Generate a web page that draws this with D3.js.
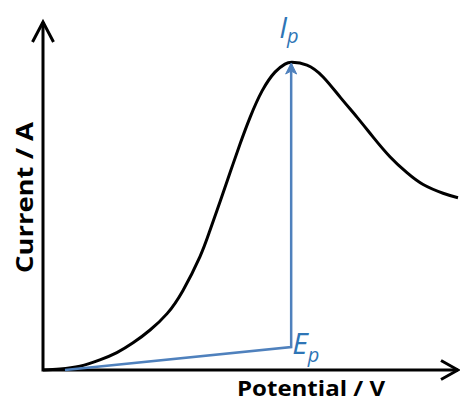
<!DOCTYPE html>
<html>
<head>
<meta charset="utf-8">
<script src="https://cdn.jsdelivr.net/npm/d3@7"></script>
<style>
  body { margin: 0; background: #fff; }
  svg { display: block; }
</style>
</head>
<body>
<script>
// voltammogram, arbitrary units (0-100 on both axes)
var potential = [0, 4.1, 8.9, 13.7, 17.8, 21.7, 25.8, 29.9, 33.7, 37.8, 40.2, 42.7, 45.1, 47.5, 49.9, 52.8, 55.9, 58.3, 60.0, 63.6, 67.5, 71.6, 75.7, 79.5, 83.6, 87.7, 91.6, 96.4, 100];
var current   = [0, 0.3, 1.1, 2.9, 5.0, 7.8, 11.5, 16.2, 22.8, 32.5, 40.0, 48.5, 56.8, 65.0, 72.6, 80.2, 85.6, 87.9, 88.4, 87.6, 84.2, 78.4, 72.6, 67.0, 61.3, 56.7, 53.3, 50.8, 49.5];

// baseline under the peak and the peak itself
var basePotential = [5.3, 59.8];
var baseCurrent = [0, 6.6];
var peakPotential = 59.8;
var peakCurrent = 88.5;

var xLabel = "Potential / V";
var yLabel = "Current / A";

var width = 460, height = 403;
var margin = { top: 22, right: 2, bottom: 33, left: 43 };

var svg = d3.select("body")
    .append("svg")
    .attr("width", width)
    .attr("height", height);

var x = d3.scaleLinear()
    .domain([0, 100])
    .range([margin.left, width - margin.right]);

var y = d3.scaleLinear()
    .domain([0, 100])
    .range([height - margin.bottom, margin.top]);

var blue = "#4f81bd";
var textBlue = "#2e75b6";

// axes with open arrow heads
var x0 = x.range()[0], x1 = x.range()[1];
var y0 = y.range()[0], y1 = y.range()[1];

svg.append("path")
    .attr("d", "M" + x0 + "," + y1 + "V" + y0 + "H" + x1)
    .attr("fill", "none")
    .attr("stroke", "#000")
    .attr("stroke-width", 3);

svg.append("path")
    .attr("d", "M" + (x0 - 10.5) + "," + (y1 + 20) + "L" + x0 + "," + y1 + "L" + (x0 + 10.5) + "," + (y1 + 20))
    .attr("fill", "none")
    .attr("stroke", "#000")
    .attr("stroke-width", 3)
    .attr("stroke-linejoin", "miter");

svg.append("path")
    .attr("d", "M" + (x1 - 17) + "," + (y0 - 9.5) + "L" + x1 + "," + y0 + "L" + (x1 - 17) + "," + (y0 + 9.5))
    .attr("fill", "none")
    .attr("stroke", "#000")
    .attr("stroke-width", 3)
    .attr("stroke-linejoin", "miter");

// curve
var pts = potential.map(function (p, i) { return [p, current[i]]; });
var line = d3.line()
    .x(function (d) { return x(d[0]); })
    .y(function (d) { return y(d[1]); })
    .curve(d3.curveNatural);

svg.append("path")
    .datum(pts)
    .attr("d", line)
    .attr("fill", "none")
    .attr("stroke", "#000")
    .attr("stroke-width", 3);

// baseline + vertical arrow to peak
svg.append("path")
    .attr("d", "M" + x(basePotential[0]) + "," + y(baseCurrent[0]) +
        "L" + x(basePotential[1]) + "," + y(baseCurrent[1]) +
        "L" + x(peakPotential) + "," + (y(peakCurrent) + 2))
    .attr("fill", "none")
    .attr("stroke", blue)
    .attr("stroke-width", 2.5)
    .attr("stroke-linejoin", "miter");

var tipX = x(peakPotential), tipY = y(peakCurrent) + 1;
svg.append("path")
    .attr("d", "M" + tipX + "," + tipY + "L" + (tipX - 5.5) + "," + (tipY + 11) + "L" + tipX + "," + (tipY + 8) + "L" + (tipX + 5.5) + "," + (tipY + 11) + "Z")
    .attr("fill", blue)
    .attr("stroke", blue)
    .attr("stroke-width", 1);

// peak labels
var ip = svg.append("text")
    .attr("x", tipX - 12)
    .attr("y", 38)
    .attr("fill", textBlue)
    .style("font-family", "'Open Sans', sans-serif")
    .style("font-style", "italic")
    .style("font-size", "29px");
ip.append("tspan").text("I");
ip.append("tspan").attr("dy", 5).style("font-size", "20px").text("p");

var ep = svg.append("text")
    .attr("x", tipX + 1)
    .attr("y", 354)
    .attr("fill", textBlue)
    .style("font-family", "'Open Sans', sans-serif")
    .style("font-style", "italic")
    .style("font-size", "30px");
ep.append("tspan").text("E");
ep.append("tspan").attr("dy", 8).style("font-size", "20px").text("p");

// axis titles
svg.append("text")
    .attr("x", 237)
    .attr("y", 396)
    .attr("textLength", 148)
    .attr("lengthAdjust", "spacingAndGlyphs")
    .style("font-family", "'Open Sans', sans-serif")
    .style("font-weight", "bold")
    .style("font-size", "22px")
    .text(xLabel);

svg.append("text")
    .attr("transform", "translate(33,273) rotate(-90)")
    .attr("textLength", 151)
    .attr("lengthAdjust", "spacingAndGlyphs")
    .style("font-family", "'Open Sans', sans-serif")
    .style("font-weight", "bold")
    .style("font-size", "23px")
    .text(yLabel);
</script>
</body>
</html>
